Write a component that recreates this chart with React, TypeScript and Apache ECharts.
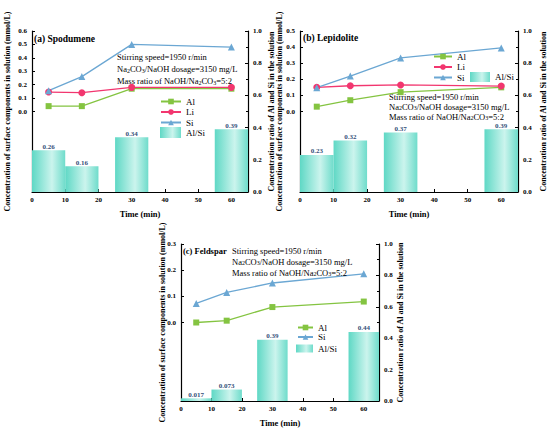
import React, { useEffect, useRef } from 'react';
import * as echarts from 'echarts';

// ---------- data ----------
const times = [5, 15, 30, 60];

const spodAl = [0.04, 0.04, 0.17, 0.17];
const spodLi = [0.145, 0.14, 0.18, 0.18];
const spodSi = [0.155, 0.26, 0.5, 0.48];
const spodRatio = [0.26, 0.16, 0.34, 0.39];

const lepiAl = [0.03, 0.07, 0.12, 0.15];
const lepiLi = [0.15, 0.16, 0.165, 0.158];
const lepiSi = [0.148, 0.22, 0.333, 0.395];
const lepiRatio = [0.23, 0.32, 0.37, 0.39];

const feldAl = [0.0, 0.007, 0.059, 0.08];
const feldSi = [0.073, 0.115, 0.151, 0.186];
const feldRatio = [0.017, 0.073, 0.39, 0.44];

const leftName = 'Concentration of surface components in solution (mmol/L)';
const rightName = 'Concentration ratio of Al and Si in the solution';
const xName = 'Time (min)';
const noteLines = [
  '{n|Stirring speed=1950 r/min}',
  '{n|Na}{s|2}{n|CO}{s|3}{n|/NaOH dosage=3150 mg/L}',
  '{n|Mass ratio of NaOH/Na}{s|2}{n|CO}{s|3}{n|=5:2}',
];

// ---------- styles / layout ----------
const FONT = '"Liberation Serif", "Times New Roman", serif';
const COLORS: Record<string, string> = { Al: '#84c441', Li: '#f2366f', Si: '#6ba7d3' };
const SYMBOLS: Record<string, string> = { Al: 'rect', Li: 'circle', Si: 'triangle' };
const SYMSIZE: Record<string, number> = { Al: 6, Li: 7, Si: 7 };

const panels = [
  {
    title: '(a) Spodumene',
    titleSize: 9.5,
    grid: { left: 32, top: 31, width: 216, height: 161 },
    leftMax: 0.6,
    lines: [
      { name: 'Al', data: spodAl },
      { name: 'Li', data: spodLi },
      { name: 'Si', data: spodSi },
    ],
    ratio: spodRatio,
    titlePos: [34, 39],
    notePos: [117, 57, 12],
    legend: { left: 160, top: 97, w: 20, h: 7, gap: 1.5 },
    barLegend: { left: 160, top: 127, w: 21, h: 11 },
    nameGaps: [21, 19],
  },
  {
    title: '(b) Lepidolite',
    titleSize: 9.5,
    grid: { left: 300, top: 31, width: 218, height: 161 },
    leftMax: 0.5,
    lines: [
      { name: 'Al', data: lepiAl },
      { name: 'Li', data: lepiLi },
      { name: 'Si', data: lepiSi },
    ],
    ratio: lepiRatio,
    titlePos: [303, 38],
    notePos: [389, 96.5, 10],
    legend: { left: 433, top: 52, w: 18, h: 7, gap: 1.5 },
    barLegend: { left: 470, top: 72, w: 20, h: 10 },
    nameGaps: [17, 21],
  },
  {
    title: '(c) Feldspar',
    titleSize: 8.5,
    grid: { left: 181, top: 244, width: 198, height: 157 },
    leftMax: 0.3,
    lines: [
      { name: 'Al', data: feldAl },
      { name: 'Si', data: feldSi },
    ],
    ratio: feldRatio,
    titlePos: [183, 251],
    notePos: [232, 251, 10.8],
    legend: { left: 297, top: 323, w: 15, h: 7, gap: 0.5 },
    barLegend: { left: 296, top: 344, w: 17, h: 8 },
    nameGaps: [15, 16],
  },
];

const axisLineStyle = { color: '#000', width: 1.2 };
const tickLabel = { fontSize: 7, fontWeight: 'bold' as const, fontFamily: FONT, color: '#000' };
const nameStyle = { fontSize: 8, fontWeight: 'bold' as const, fontFamily: FONT, color: '#000' };

const barColor = new echarts.graphic.LinearGradient(0, 0, 1, 0, [
  { offset: 0, color: '#5fd8c5' },
  { offset: 0.6, color: '#cbf4ed' },
  { offset: 1, color: '#6fdccb' },
]);

function buildOption() {
  const grid: any[] = [];
  const xAxis: any[] = [];
  const yAxis: any[] = [];
  const series: any[] = [];
  const legend: any[] = [];
  const graphic: any[] = [];

  panels.forEach((p, i) => {
    const g = p.grid;
    grid.push({ left: g.left, top: g.top, width: g.width, height: g.height });
    grid.push({ left: g.left, top: g.top, width: g.width, height: g.height / 2 });

    xAxis.push({
      type: 'value',
      gridIndex: i * 2,
      min: 0,
      max: 65,
      interval: 10,
      name: xName,
      nameLocation: 'middle',
      nameGap: 17,
      nameTextStyle: { ...nameStyle, fontSize: 8.5 },
      axisLine: { onZero: false, lineStyle: axisLineStyle },
      axisTick: { inside: true, length: 3, lineStyle: { color: '#000' } },
      axisLabel: { ...tickLabel, margin: 4, showMaxLabel: false },
      splitLine: { show: false },
    });
    xAxis.push({ type: 'value', gridIndex: i * 2 + 1, min: 0, max: 65, show: false });

    // main-grid left axis: just the line and the name
    yAxis.push({
      type: 'value',
      gridIndex: i * 2,
      position: 'left',
      min: 0,
      max: 1,
      name: leftName,
      nameLocation: 'middle',
      nameRotate: 90,
      nameGap: p.nameGaps[0],
      nameTextStyle: nameStyle,
      axisLine: { show: true, onZero: false, lineStyle: axisLineStyle },
      axisTick: { show: false },
      axisLabel: { show: false },
      splitLine: { show: false },
    });
    // right ratio axis
    yAxis.push({
      type: 'value',
      gridIndex: i * 2,
      position: 'right',
      min: 0,
      max: 1,
      interval: 0.2,
      name: rightName,
      nameLocation: 'middle',
      nameRotate: 90,
      nameGap: p.nameGaps[1],
      nameTextStyle: nameStyle,
      axisLine: { show: true, onZero: false, lineStyle: axisLineStyle },
      axisTick: { show: true, inside: true, length: 3, lineStyle: { color: '#000' } },
      minorTick: { show: true, splitNumber: 2, length: 2, lineStyle: { color: '#000' } },
      axisLabel: { ...tickLabel, margin: 5, formatter: (v: number) => v.toFixed(1) },
      splitLine: { show: false },
    });
    // sub-grid left concentration axis (0..max)
    yAxis.push({
      type: 'value',
      gridIndex: i * 2 + 1,
      position: 'left',
      min: 0,
      max: p.leftMax,
      interval: 0.1,
      axisLine: { show: false },
      axisTick: { show: true, inside: true, length: 3, lineStyle: { color: '#000' } },
      axisLabel: { ...tickLabel, margin: 5, formatter: (v: number) => v.toFixed(1) },
      splitLine: { show: false },
    });

    series.push({
      type: 'bar',
      name: 'Al/Si',
      xAxisIndex: i * 2,
      yAxisIndex: i * 3 + 1,
      barWidth: (g.width * 10) / 65,
      data: times.map((t, k) => [t, p.ratio[k]]),
      itemStyle: { color: barColor },
      label: {
        show: true,
        position: 'top',
        distance: 0,
        fontSize: 7,
        fontWeight: 'bold',
        fontFamily: FONT,
        color: '#34507a',
        formatter: (q: any) => String(q.value[1]),
      },
      z: 1,
    });

    p.lines.forEach((ln) => {
      series.push({
        type: 'line',
        name: ln.name,
        xAxisIndex: i * 2 + 1,
        yAxisIndex: i * 3 + 2,
        data: times.map((t, k) => [t, ln.data[k]]),
        symbol: SYMBOLS[ln.name],
        symbolSize: SYMSIZE[ln.name],
        itemStyle: { color: COLORS[ln.name] },
        lineStyle: { color: COLORS[ln.name], width: 1.3 },
        clip: false,
        z: 3,
      });
    });

    legend.push({
      orient: 'vertical',
      left: p.legend.left,
      top: p.legend.top,
      padding: 0,
      itemWidth: p.legend.w,
      itemHeight: p.legend.h,
      itemGap: p.legend.gap,
      selectedMode: false,
      data: p.lines.map((l) => l.name),
      textStyle: { fontSize: 9, fontFamily: FONT, color: '#000' },
    });
    legend.push({
      left: p.barLegend.left,
      top: p.barLegend.top,
      padding: 0,
      itemWidth: p.barLegend.w,
      itemHeight: p.barLegend.h,
      icon: 'rect',
      selectedMode: false,
      data: ['Al/Si'],
      textStyle: { fontSize: 9, fontFamily: FONT, color: '#000' },
    });

    graphic.push({
      type: 'text',
      x: p.titlePos[0],
      y: p.titlePos[1],
      style: {
        text: p.title,
        fontSize: p.titleSize,
        fontWeight: 'bold',
        fontFamily: FONT,
        fill: '#000',
        verticalAlign: 'middle',
      },
      z: 10,
    });
    noteLines.forEach((t, k) => {
      graphic.push({
        type: 'text',
        x: p.notePos[0],
        y: p.notePos[1] + k * p.notePos[2],
        style: {
          text: t,
          verticalAlign: 'middle',
          rich: {
            n: { fontSize: 8.5, fontFamily: FONT, fill: '#000', lineHeight: 9 },
            s: { fontSize: 6, fontFamily: FONT, fill: '#000', lineHeight: 5, verticalAlign: 'bottom' },
          },
        },
        z: 10,
      });
    });
  });

  return {
    animation: false,
    backgroundColor: '#fff',
    grid,
    xAxis,
    yAxis,
    series,
    legend,
    graphic,
  };
}

export default function App() {
  const ref = useRef<HTMLDivElement>(null);
  useEffect(() => {
    document.body.style.margin = '0';
    if (!ref.current) return;
    const chart = echarts.init(ref.current, undefined, { renderer: 'svg' });
    chart.setOption(buildOption() as any);
    return () => chart.dispose();
  }, []);
  return <div ref={ref} style={{ width: 550, height: 429 }} />;
}
